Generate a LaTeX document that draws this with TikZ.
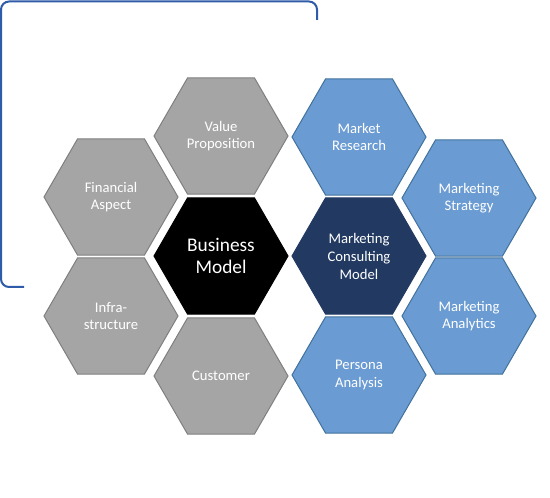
\documentclass[tikz,border=0pt]{standalone}
\usepackage{fontspec}
\setmainfont{Carlito}
\usetikzlibrary{shapes.geometric}
\definecolor{hgray}{HTML}{A5A5A5}
\definecolor{hgrayline}{HTML}{7F7F7F}
\definecolor{hblue}{HTML}{6A9BD2}
\definecolor{hblueline}{HTML}{41719C}
\definecolor{hnavy}{HTML}{223A62}
\definecolor{frameblue}{HTML}{2F5CA8}
\begin{document}
\begin{tikzpicture}
[
    x=0.75pt, y=-0.75pt,
    hex/.style={regular polygon, regular polygon sides=6, minimum size=100.5pt,
        inner sep=0pt, line width=0.75pt, text=white, align=center,
        font=\fontsize{11}{13}\selectfont},  % hex = honeycomb cell
    hg/.style={hex, fill=hgray, draw=hgrayline},   % hg = gray cell
    hb/.style={hex, fill=hblue, draw=hblueline},   % hb = blue cell
]
\useasboundingbox (0,0) rectangle (550,498);

% frame
\draw[frameblue, line width=1.5pt, rounded corners=6pt] (24,287) -| (1,1.5) -| (317,20);

% left group
\node [hg] (fa) at (111,197) {Financial\\Aspect};
\node [hg] (is) at (111,316) {Infra-\\structure};
\node [hg] (vp) at (221,136) {Value\\Proposition};
\node [hex, fill=black, draw=black, font=\fontsize{14.5}{16.5}\selectfont] (bm) at (221,256) {Business\\Model};
\node [hg] (cu) at (221,376) {Customer};

% right group
\node [hb] (mr) at (359,137) {Market\\Research};
\node [hex, fill=hnavy, draw=hnavy, font=\fontsize{11}{13.5}\selectfont] (mc) at (359,256) {Marketing\\Consulting\\Model};
\node [hb] (pa) at (359,375) {Persona\\Analysis};
\node [hb] (ms) at (469,198) {Marketing\\Strategy};
\node [hb] (ma) at (469,316) {Marketing\\Analytics};
\end{tikzpicture}
\end{document}
